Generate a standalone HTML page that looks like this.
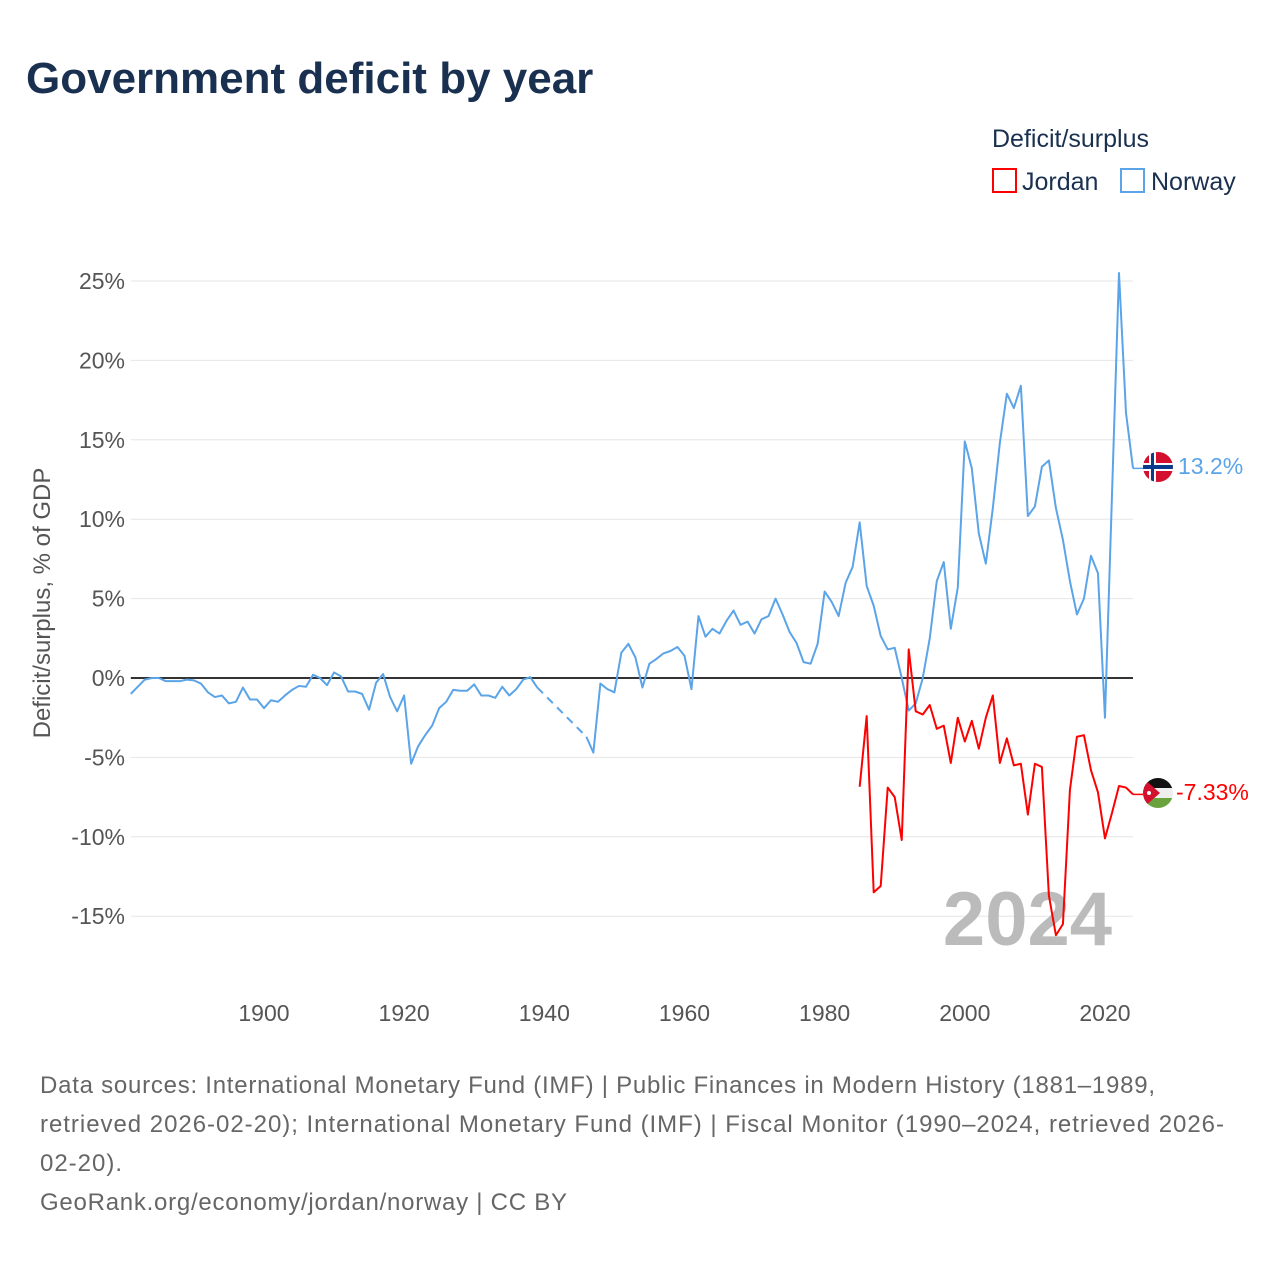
<!DOCTYPE html>
<html><head><meta charset="utf-8"><style>
body{margin:0;background:#fff;font-family:"Liberation Sans",sans-serif;}
svg text{font-family:"Liberation Sans",sans-serif;}
</style></head><body>
<svg id="chart" width="1280" height="1280" viewBox="0 0 1280 1280">
<text x="26" y="93" font-size="44" font-weight="bold" fill="#1a3050">Government deficit by year</text>
<text x="992" y="147" font-size="25" fill="#1a3050">Deficit/surplus</text>
<g><rect x="993" y="169" width="23" height="23" fill="none" stroke="#f00" stroke-width="2"/><text x="1022" y="190" font-size="25" fill="#1a3050">Jordan</text></g>
<g><rect x="1121" y="169" width="23" height="23" fill="none" stroke="#5ba4e8" stroke-width="2"/><text x="1151" y="190" font-size="25" fill="#1a3050">Norway</text></g>
<g id="grid"></g>
<g id="yticks"></g>
<g id="xticks"></g>
<text transform="translate(50,603) rotate(-90)" text-anchor="middle" font-size="24" fill="#555">Deficit/surplus, % of GDP</text>
<text x="1112" y="945" text-anchor="end" font-size="76" font-weight="bold" fill="#bbb">2024</text>
<g id="series"></g>
<g>
<clipPath id="cn"><circle cx="1158" cy="467" r="15"/></clipPath>
<g clip-path="url(#cn)"><rect x="1140" y="450" width="36" height="34" fill="#d3112e"/><rect x="1149" y="450" width="7" height="34" fill="#fff"/><rect x="1140" y="463" width="36" height="8" fill="#fff"/><rect x="1151" y="450" width="3" height="34" fill="#0a3a8c"/><rect x="1140" y="465" width="36" height="4" fill="#0a3a8c"/></g></g>
<text x="1178" y="474" font-size="23" fill="#5ba4e8">13.2%</text>
<g>
<clipPath id="cj"><circle cx="1158" cy="793" r="15"/></clipPath>
<g clip-path="url(#cj)"><rect x="1140" y="776" width="36" height="12" fill="#111"/><rect x="1140" y="788" width="36" height="10" fill="#eee"/><rect x="1140" y="798" width="36" height="12" fill="#6aa33d"/><polygon points="1143,778 1160,793 1143,808" fill="#d3112e"/><circle cx="1149" cy="793" r="2" fill="#fff"/></g></g>
<text x="1176" y="800" font-size="23" fill="#f00">-7.33%</text>
<g font-size="24" fill="#666">
<text x="40" y="1093" textLength="1115" lengthAdjust="spacing">Data sources: International Monetary Fund (IMF) | Public Finances in Modern History (1881–1989,</text>
<text x="40" y="1132" textLength="1184" lengthAdjust="spacing">retrieved 2026-02-20); International Monetary Fund (IMF) | Fiscal Monitor (1990–2024, retrieved 2026-</text>
<text x="40" y="1171" textLength="82" lengthAdjust="spacing">02-20).</text>
<text x="40" y="1210" textLength="527" lengthAdjust="spacing">GeoRank.org/economy/jordan/norway | CC BY</text>
</g>
</svg>
<script>
const yTicks=[25,20,15,10,5,0,-5,-10,-15];
const xTicks=[1900,1920,1940,1960,1980,2000,2020];
const norwayStart=1881;
const norway=[-1.0,-0.55,-0.1,0,0,-0.2,-0.2,-0.2,-0.1,-0.15,-0.35,-0.9,-1.2,-1.1,-1.6,-1.5,-0.6,-1.35,-1.35,-1.9,-1.4,-1.5,-1.1,-0.75,-0.5,-0.55,0.2,0,-0.45,0.35,0.1,-0.85,-0.85,-1.0,-2.0,-0.3,0.25,-1.2,-2.1,-1.1,-5.4,-4.3,-3.6,-3.0,-1.9,-1.5,-0.75,-0.8,-0.8,-0.4,-1.1,-1.1,-1.25,-0.55,-1.1,-0.7,-0.1,0.05,-0.6,null,null,null,null,null,null,-3.7,-4.7,-0.35,-0.7,-0.9,1.6,2.15,1.3,-0.6,0.9,1.2,1.55,1.7,1.95,1.4,-0.7,3.9,2.6,3.1,2.8,3.6,4.25,3.35,3.55,2.8,3.7,3.9,5.0,4.0,2.9,2.2,1.0,0.9,2.15,5.45,4.8,3.9,6.0,7.0,9.8,5.8,4.55,2.65,1.8,1.9,0,-2.05,-1.6,0,2.5,6.1,7.3,3.1,5.7,14.9,13.2,9.1,7.2,10.7,14.8,17.9,17.0,18.4,10.2,10.8,13.3,13.7,10.7,8.7,6.1,4.0,5.0,7.7,6.6,-2.5,11.5,25.5,16.7,13.2];
const jordanStart=1985;
const jordan=[-6.85,-2.4,-13.5,-13.1,-6.9,-7.5,-10.2,1.8,-2.1,-2.3,-1.7,-3.2,-3.0,-5.35,-2.5,-4.0,-2.7,-4.45,-2.5,-1.1,-5.35,-3.8,-5.5,-5.4,-8.6,-5.4,-5.6,-13.7,-16.2,-15.5,-7.05,-3.7,-3.6,-5.8,-7.2,-10.1,-8.5,-6.8,-6.9,-7.33];
const X0=130.8,X1=1133,Y0=678,PPU=15.88;
const xs=yr=>X0+(yr-1881)*(X1-X0)/(2024-1881);
const ys=v=>Y0-v*PPU;
const NS='http://www.w3.org/2000/svg';
function mk(tag,attrs,parent){const e=document.createElementNS(NS,tag);for(const k in attrs)e.setAttribute(k,attrs[k]);parent.appendChild(e);return e;}
const grid=document.getElementById('grid'),yt=document.getElementById('yticks'),xt=document.getElementById('xticks'),ser=document.getElementById('series');
yTicks.forEach(t=>{
 if(t!==0){const l=mk('line',{x1:X0,x2:X1,y1:ys(t),y2:ys(t),stroke:'#e6e6e6','stroke-width':1},grid);
 
 }
 const tx=mk('text',{x:125,y:ys(t)+8,'text-anchor':'end','font-size':23,fill:'#555'},yt);
 tx.textContent=t+'%';
 
 
});
xTicks.forEach(t=>{
 const tx=mk('text',{x:xs(t),y:1021,'text-anchor':'middle','font-size':23,fill:'#555'},xt);
 tx.textContent=t;
 
 
});
const zl=mk('line',{x1:X0,x2:X1,y1:ys(0),y2:ys(0),stroke:'#333','stroke-width':2},grid);


function draw(arr,start,color,name){
 let segs=[],cur=[],lastIdx=null,gaps=[];
 arr.forEach((v,i)=>{
  if(v===null){if(cur.length){segs.push(cur);cur=[];}return;}
  if(lastIdx!==null&&i-lastIdx>1)gaps.push([lastIdx,i]);
  cur.push([xs(start+i),ys(v)]);lastIdx=i;
 });
 if(cur.length)segs.push(cur);
 segs.forEach(s=>{
  const p=mk('polyline',{points:s.map(q=>q.join(',')).join(' '),fill:'none',stroke:color,'stroke-width':2,'stroke-linejoin':'round'},ser);
  
  
 });
 gaps.forEach(g=>{
  const d=mk('line',{x1:xs(start+g[0]),y1:ys(arr[g[0]]),x2:xs(start+g[1]),y2:ys(arr[g[1]]),stroke:color,'stroke-width':2,'stroke-dasharray':'8,6'},ser);
  
  
 });
 const last=arr[arr.length-1];
 const c=mk('line',{x1:xs(start+arr.length-1),y1:ys(last),x2:1145,y2:ys(last),stroke:color,'stroke-width':1.5},ser);
 
 
}
draw(norway,norwayStart,'#5ba4e8','norway');
draw(jordan,jordanStart,'#ff0000','jordan');
</script>
</body></html>
